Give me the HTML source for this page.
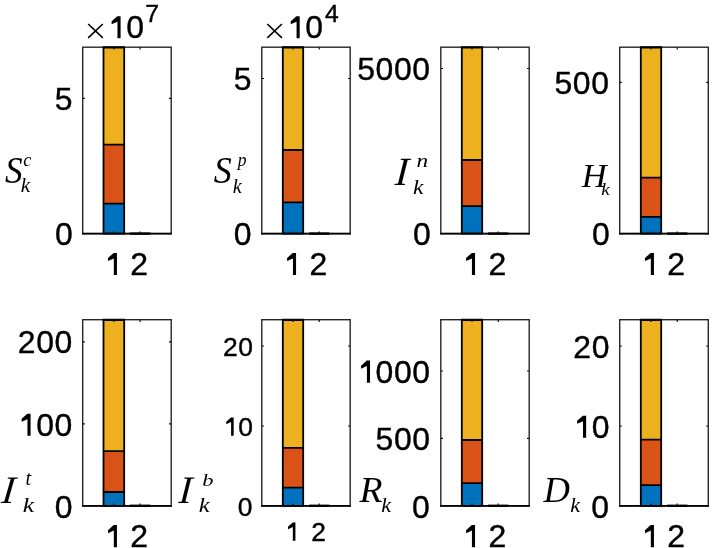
<!DOCTYPE html>
<html><head><meta charset="utf-8"><style>
html,body{margin:0;padding:0;background:#fff;}
svg{display:block;will-change:transform;}
text{fill:#000;stroke:#000;font-kerning:none;}
</style></head><body>
<svg width="712" height="548" viewBox="0 0 712 548">
<rect width="712" height="548" fill="#fff"/>
<rect x="103.50" y="47.20" width="20.70" height="97.50" fill="#EDB120"/>
<rect x="103.50" y="144.70" width="20.70" height="59.00" fill="#D95319"/>
<rect x="103.50" y="203.70" width="20.70" height="29.90" fill="#0072BD"/>
<path d="M103.50 47.20V233.60M124.20 47.20V233.60M102.60 144.70H125.10M102.60 203.70H125.10M102.60 233.60H125.10M102.60 47.20H125.10" stroke="#000" stroke-width="1.80" fill="none"/>
<path d="M129.75 233.60H150.45" stroke="#000" stroke-width="2.4" fill="none"/>
<rect x="82.70" y="47.20" width="88.50" height="186.40" fill="none" stroke="#262626" stroke-width="1.4"/>
<path d="M82.00 233.60H171.90" stroke="#000" stroke-width="1.8" fill="none"/>
<path d="M102.60 47.60H125.10" stroke="#000" stroke-width="1.8" fill="none"/>
<path d="M113.85 47.20V49.40M113.85 233.60V231.40M140.10 47.20V49.40M140.10 233.60V231.40M82.70 98.30H84.90M171.20 98.30H169.00M82.70 233.60H84.90M171.20 233.60H169.00" stroke="#111" stroke-width="1.2" fill="none"/>
<rect x="282.80" y="47.20" width="20.40" height="102.80" fill="#EDB120"/>
<rect x="282.80" y="150.00" width="20.40" height="52.30" fill="#D95319"/>
<rect x="282.80" y="202.30" width="20.40" height="31.30" fill="#0072BD"/>
<path d="M282.80 47.20V233.60M303.20 47.20V233.60M281.90 150.00H304.10M281.90 202.30H304.10M281.90 233.60H304.10M281.90 47.20H304.10" stroke="#000" stroke-width="1.80" fill="none"/>
<path d="M309.05 233.60H329.45" stroke="#000" stroke-width="2.4" fill="none"/>
<rect x="261.80" y="47.20" width="88.40" height="186.40" fill="none" stroke="#262626" stroke-width="1.4"/>
<path d="M261.10 233.60H350.90" stroke="#000" stroke-width="1.8" fill="none"/>
<path d="M281.90 47.60H304.10" stroke="#000" stroke-width="1.8" fill="none"/>
<path d="M293.00 47.20V49.40M293.00 233.60V231.40M319.25 47.20V49.40M319.25 233.60V231.40M261.80 78.50H264.00M350.20 78.50H348.00M261.80 233.60H264.00M350.20 233.60H348.00" stroke="#111" stroke-width="1.2" fill="none"/>
<rect x="461.80" y="47.20" width="20.40" height="112.80" fill="#EDB120"/>
<rect x="461.80" y="160.00" width="20.40" height="46.20" fill="#D95319"/>
<rect x="461.80" y="206.20" width="20.40" height="27.40" fill="#0072BD"/>
<path d="M461.80 47.20V233.60M482.20 47.20V233.60M460.90 160.00H483.10M460.90 206.20H483.10M460.90 233.60H483.10M460.90 47.20H483.10" stroke="#000" stroke-width="1.80" fill="none"/>
<path d="M488.05 233.60H508.45" stroke="#000" stroke-width="2.4" fill="none"/>
<rect x="440.80" y="47.20" width="88.40" height="186.40" fill="none" stroke="#262626" stroke-width="1.4"/>
<path d="M440.10 233.60H529.90" stroke="#000" stroke-width="1.8" fill="none"/>
<path d="M460.90 47.60H483.10" stroke="#000" stroke-width="1.8" fill="none"/>
<path d="M472.00 47.20V49.40M472.00 233.60V231.40M498.25 47.20V49.40M498.25 233.60V231.40M440.80 68.50H443.00M529.20 68.50H527.00M440.80 233.60H443.00M529.20 233.60H527.00" stroke="#111" stroke-width="1.2" fill="none"/>
<rect x="640.80" y="47.20" width="20.40" height="130.40" fill="#EDB120"/>
<rect x="640.80" y="177.60" width="20.40" height="39.20" fill="#D95319"/>
<rect x="640.80" y="216.80" width="20.40" height="16.80" fill="#0072BD"/>
<path d="M640.80 47.20V233.60M661.20 47.20V233.60M639.90 177.60H662.10M639.90 216.80H662.10M639.90 233.60H662.10M639.90 47.20H662.10" stroke="#000" stroke-width="1.80" fill="none"/>
<path d="M667.05 233.60H687.45" stroke="#000" stroke-width="2.4" fill="none"/>
<rect x="619.70" y="47.20" width="88.60" height="186.40" fill="none" stroke="#262626" stroke-width="1.4"/>
<path d="M619.00 233.60H709.00" stroke="#000" stroke-width="1.8" fill="none"/>
<path d="M639.90 47.60H662.10" stroke="#000" stroke-width="1.8" fill="none"/>
<path d="M651.00 47.20V49.40M651.00 233.60V231.40M677.25 47.20V49.40M677.25 233.60V231.40M619.70 82.30H621.90M708.30 82.30H706.10M619.70 233.60H621.90M708.30 233.60H706.10" stroke="#111" stroke-width="1.2" fill="none"/>
<rect x="103.50" y="319.70" width="20.70" height="131.50" fill="#EDB120"/>
<rect x="103.50" y="451.20" width="20.70" height="40.80" fill="#D95319"/>
<rect x="103.50" y="492.00" width="20.70" height="13.80" fill="#0072BD"/>
<path d="M103.50 319.70V505.80M124.20 319.70V505.80M102.60 451.20H125.10M102.60 492.00H125.10M102.60 505.80H125.10M102.60 319.70H125.10" stroke="#000" stroke-width="1.80" fill="none"/>
<path d="M129.75 505.80H150.45" stroke="#000" stroke-width="2.4" fill="none"/>
<rect x="82.70" y="319.70" width="88.50" height="186.10" fill="none" stroke="#262626" stroke-width="1.4"/>
<path d="M82.00 505.80H171.90" stroke="#000" stroke-width="1.8" fill="none"/>
<path d="M102.60 320.10H125.10" stroke="#000" stroke-width="1.8" fill="none"/>
<path d="M113.85 319.70V321.90M113.85 505.80V503.60M140.10 319.70V321.90M140.10 505.80V503.60M82.70 341.80H84.90M171.20 341.80H169.00M82.70 423.80H84.90M171.20 423.80H169.00M82.70 505.80H84.90M171.20 505.80H169.00" stroke="#111" stroke-width="1.2" fill="none"/>
<rect x="282.80" y="319.70" width="20.40" height="128.10" fill="#EDB120"/>
<rect x="282.80" y="447.80" width="20.40" height="39.90" fill="#D95319"/>
<rect x="282.80" y="487.70" width="20.40" height="18.10" fill="#0072BD"/>
<path d="M282.80 319.70V505.80M303.20 319.70V505.80M281.90 447.80H304.10M281.90 487.70H304.10M281.90 505.80H304.10M281.90 319.70H304.10" stroke="#000" stroke-width="1.80" fill="none"/>
<path d="M309.05 505.80H329.45" stroke="#000" stroke-width="2.4" fill="none"/>
<rect x="261.80" y="319.70" width="88.40" height="186.10" fill="none" stroke="#262626" stroke-width="1.4"/>
<path d="M261.10 505.80H350.90" stroke="#000" stroke-width="1.8" fill="none"/>
<path d="M281.90 320.10H304.10" stroke="#000" stroke-width="1.8" fill="none"/>
<path d="M293.00 319.70V321.90M293.00 505.80V503.60M319.25 319.70V321.90M319.25 505.80V503.60M261.80 346.00H264.00M350.20 346.00H348.00M261.80 426.00H264.00M350.20 426.00H348.00M261.80 505.80H264.00M350.20 505.80H348.00" stroke="#111" stroke-width="1.2" fill="none"/>
<rect x="461.80" y="319.70" width="20.40" height="120.30" fill="#EDB120"/>
<rect x="461.80" y="440.00" width="20.40" height="43.20" fill="#D95319"/>
<rect x="461.80" y="483.20" width="20.40" height="22.60" fill="#0072BD"/>
<path d="M461.80 319.70V505.80M482.20 319.70V505.80M460.90 440.00H483.10M460.90 483.20H483.10M460.90 505.80H483.10M460.90 319.70H483.10" stroke="#000" stroke-width="1.80" fill="none"/>
<path d="M488.05 505.80H508.45" stroke="#000" stroke-width="2.4" fill="none"/>
<rect x="440.80" y="319.70" width="88.40" height="186.10" fill="none" stroke="#262626" stroke-width="1.4"/>
<path d="M440.10 505.80H529.90" stroke="#000" stroke-width="1.8" fill="none"/>
<path d="M460.90 320.10H483.10" stroke="#000" stroke-width="1.8" fill="none"/>
<path d="M472.00 319.70V321.90M472.00 505.80V503.60M498.25 319.70V321.90M498.25 505.80V503.60M440.80 371.00H443.00M529.20 371.00H527.00M440.80 438.30H443.00M529.20 438.30H527.00M440.80 505.80H443.00M529.20 505.80H527.00" stroke="#111" stroke-width="1.2" fill="none"/>
<rect x="640.80" y="319.70" width="20.40" height="120.00" fill="#EDB120"/>
<rect x="640.80" y="439.70" width="20.40" height="45.50" fill="#D95319"/>
<rect x="640.80" y="485.20" width="20.40" height="20.60" fill="#0072BD"/>
<path d="M640.80 319.70V505.80M661.20 319.70V505.80M639.90 439.70H662.10M639.90 485.20H662.10M639.90 505.80H662.10M639.90 319.70H662.10" stroke="#000" stroke-width="1.80" fill="none"/>
<path d="M667.05 505.80H687.45" stroke="#000" stroke-width="2.4" fill="none"/>
<rect x="619.70" y="319.70" width="88.60" height="186.10" fill="none" stroke="#262626" stroke-width="1.4"/>
<path d="M619.00 505.80H709.00" stroke="#000" stroke-width="1.8" fill="none"/>
<path d="M639.90 320.10H662.10" stroke="#000" stroke-width="1.8" fill="none"/>
<path d="M651.00 319.70V321.90M651.00 505.80V503.60M677.25 319.70V321.90M677.25 505.80V503.60M619.70 346.00H621.90M708.30 346.00H706.10M619.70 426.00H621.90M708.30 426.00H706.10M619.70 505.80H621.90M708.30 505.80H706.10" stroke="#111" stroke-width="1.2" fill="none"/>
<path d="M88.20 24.00L102.80 37.90M102.80 24.00L88.20 37.90" stroke="#000" stroke-width="1.6" fill="none"/>
<path d="M267.30 24.00L281.90 37.90M281.90 24.00L267.30 37.90" stroke="#000" stroke-width="1.6" fill="none"/>
<text x="54.78" y="110.08" style="font-family:'Liberation Sans',sans-serif;font-size:31.93px;stroke-width:0.40px">5</text>
<text x="54.89" y="244.99" style="font-family:'Liberation Sans',sans-serif;font-size:31.93px;stroke-width:0.40px">0</text>
<text x="233.78" y="90.03" style="font-family:'Liberation Sans',sans-serif;font-size:31.93px;stroke-width:0.40px">5</text>
<text x="233.79" y="245.19" style="font-family:'Liberation Sans',sans-serif;font-size:31.93px;stroke-width:0.40px">0</text>
<text x="357.22" y="79.79" style="font-family:'Liberation Sans',sans-serif;font-size:31.93px;stroke-width:0.40px">5</text>
<text x="375.58" y="79.79" style="font-family:'Liberation Sans',sans-serif;font-size:31.93px;stroke-width:0.40px">0</text>
<text x="393.93" y="79.79" style="font-family:'Liberation Sans',sans-serif;font-size:31.93px;stroke-width:0.40px">0</text>
<text x="412.29" y="79.79" style="font-family:'Liberation Sans',sans-serif;font-size:31.93px;stroke-width:0.40px">0</text>
<text x="413.09" y="245.19" style="font-family:'Liberation Sans',sans-serif;font-size:31.93px;stroke-width:0.40px">0</text>
<text x="554.48" y="94.09" style="font-family:'Liberation Sans',sans-serif;font-size:31.93px;stroke-width:0.40px">5</text>
<text x="572.83" y="94.09" style="font-family:'Liberation Sans',sans-serif;font-size:31.93px;stroke-width:0.40px">0</text>
<text x="591.19" y="94.09" style="font-family:'Liberation Sans',sans-serif;font-size:31.93px;stroke-width:0.40px">0</text>
<text x="591.99" y="245.19" style="font-family:'Liberation Sans',sans-serif;font-size:31.93px;stroke-width:0.40px">0</text>
<text x="17.78" y="353.49" style="font-family:'Liberation Sans',sans-serif;font-size:31.93px;stroke-width:0.40px">2</text>
<text x="36.13" y="353.49" style="font-family:'Liberation Sans',sans-serif;font-size:31.93px;stroke-width:0.40px">0</text>
<text x="54.49" y="353.49" style="font-family:'Liberation Sans',sans-serif;font-size:31.93px;stroke-width:0.40px">0</text>
<path d="M30.58 435.78 27.46 435.78 27.46 419.13 21.62 421.77 21.62 418.81 27.31 413.63 30.58 413.63Z" fill="#000"/>
<text x="36.13" y="435.69" style="font-family:'Liberation Sans',sans-serif;font-size:31.93px;stroke-width:0.40px">0</text>
<text x="54.49" y="435.69" style="font-family:'Liberation Sans',sans-serif;font-size:31.93px;stroke-width:0.40px">0</text>
<text x="54.79" y="517.69" style="font-family:'Liberation Sans',sans-serif;font-size:31.93px;stroke-width:0.40px">0</text>
<text x="222.94" y="355.50" style="font-family:'Liberation Sans',sans-serif;font-size:26.43px;stroke-width:0.40px">2</text>
<text x="238.23" y="355.50" style="font-family:'Liberation Sans',sans-serif;font-size:26.43px;stroke-width:0.40px">0</text>
<path d="M233.67 435.77 231.09 435.77 231.09 421.99 226.25 424.17 226.25 421.72 230.96 417.44 233.67 417.44Z" fill="#000"/>
<text x="238.23" y="435.70" style="font-family:'Liberation Sans',sans-serif;font-size:26.43px;stroke-width:0.40px">0</text>
<text x="237.73" y="516.10" style="font-family:'Liberation Sans',sans-serif;font-size:26.43px;stroke-width:0.40px">0</text>
<path d="M370.03 382.68 366.91 382.68 366.91 366.03 361.06 368.67 361.06 365.71 366.75 360.53 370.03 360.53Z" fill="#000"/>
<text x="375.58" y="382.59" style="font-family:'Liberation Sans',sans-serif;font-size:31.93px;stroke-width:0.40px">0</text>
<text x="393.93" y="382.59" style="font-family:'Liberation Sans',sans-serif;font-size:31.93px;stroke-width:0.40px">0</text>
<text x="412.29" y="382.59" style="font-family:'Liberation Sans',sans-serif;font-size:31.93px;stroke-width:0.40px">0</text>
<text x="375.58" y="450.39" style="font-family:'Liberation Sans',sans-serif;font-size:31.93px;stroke-width:0.40px">5</text>
<text x="393.93" y="450.39" style="font-family:'Liberation Sans',sans-serif;font-size:31.93px;stroke-width:0.40px">0</text>
<text x="412.29" y="450.39" style="font-family:'Liberation Sans',sans-serif;font-size:31.93px;stroke-width:0.40px">0</text>
<text x="411.99" y="517.69" style="font-family:'Liberation Sans',sans-serif;font-size:31.93px;stroke-width:0.40px">0</text>
<text x="573.33" y="357.69" style="font-family:'Liberation Sans',sans-serif;font-size:31.93px;stroke-width:0.40px">2</text>
<text x="591.69" y="357.69" style="font-family:'Liberation Sans',sans-serif;font-size:31.93px;stroke-width:0.40px">0</text>
<path d="M586.14 437.78 583.02 437.78 583.02 421.13 577.17 423.77 577.17 420.81 582.86 415.63 586.14 415.63Z" fill="#000"/>
<text x="591.69" y="437.69" style="font-family:'Liberation Sans',sans-serif;font-size:31.93px;stroke-width:0.40px">0</text>
<text x="591.29" y="518.09" style="font-family:'Liberation Sans',sans-serif;font-size:31.93px;stroke-width:0.40px">0</text>
<path d="M116.95 275.06 113.83 275.06 113.83 258.41 107.98 261.04 107.98 258.08 113.67 252.91 116.95 252.91Z" fill="#000"/>
<text x="130.32" y="275.29" style="font-family:'Liberation Sans',sans-serif;font-size:31.93px;stroke-width:0.40px">2</text>
<path d="M296.05 275.06 292.93 275.06 292.93 258.41 287.08 261.04 287.08 258.08 292.77 252.91 296.05 252.91Z" fill="#000"/>
<text x="309.42" y="275.29" style="font-family:'Liberation Sans',sans-serif;font-size:31.93px;stroke-width:0.40px">2</text>
<path d="M475.05 275.06 471.93 275.06 471.93 258.41 466.08 261.04 466.08 258.08 471.77 252.91 475.05 252.91Z" fill="#000"/>
<text x="488.42" y="275.29" style="font-family:'Liberation Sans',sans-serif;font-size:31.93px;stroke-width:0.40px">2</text>
<path d="M653.95 275.06 650.83 275.06 650.83 258.41 644.98 261.04 644.98 258.08 650.67 252.91 653.95 252.91Z" fill="#000"/>
<text x="667.32" y="275.29" style="font-family:'Liberation Sans',sans-serif;font-size:31.93px;stroke-width:0.40px">2</text>
<path d="M116.95 547.26 113.83 547.26 113.83 530.61 107.98 533.24 107.98 530.28 113.67 525.11 116.95 525.11Z" fill="#000"/>
<text x="130.32" y="547.49" style="font-family:'Liberation Sans',sans-serif;font-size:31.93px;stroke-width:0.40px">2</text>
<path d="M475.05 547.26 471.93 547.26 471.93 530.61 466.08 533.24 466.08 530.28 471.77 525.11 475.05 525.11Z" fill="#000"/>
<text x="488.42" y="547.49" style="font-family:'Liberation Sans',sans-serif;font-size:31.93px;stroke-width:0.40px">2</text>
<path d="M653.95 547.26 650.83 547.26 650.83 530.61 644.98 533.24 644.98 530.28 650.67 525.11 653.95 525.11Z" fill="#000"/>
<text x="667.32" y="547.49" style="font-family:'Liberation Sans',sans-serif;font-size:31.93px;stroke-width:0.40px">2</text>
<path d="M295.42 540.76 292.84 540.76 292.84 526.98 288.00 529.16 288.00 526.71 292.71 522.42 295.42 522.42Z" fill="#000"/>
<text x="311.25" y="540.95" style="font-family:'Liberation Sans',sans-serif;font-size:26.43px;stroke-width:0.40px">2</text>
<path d="M120.59 38.29 117.47 38.29 117.47 21.64 111.62 24.27 111.62 21.31 117.31 16.13 120.59 16.13Z" fill="#000"/>
<text x="126.14" y="38.19" style="font-family:'Liberation Sans',sans-serif;font-size:31.93px;stroke-width:0.40px">0</text>
<text x="145.23" y="21.70" style="font-family:'Liberation Sans',sans-serif;font-size:24.71px;stroke-width:0.40px">7</text>
<path d="M299.69 38.29 296.57 38.29 296.57 21.64 290.72 24.27 290.72 21.31 296.41 16.13 299.69 16.13Z" fill="#000"/>
<text x="305.24" y="38.19" style="font-family:'Liberation Sans',sans-serif;font-size:31.93px;stroke-width:0.40px">0</text>
<text x="325.03" y="21.70" style="font-family:'Liberation Sans',sans-serif;font-size:24.71px;stroke-width:0.40px">4</text>
<text transform="translate(4.89 182.83) scale(0.9191 1)" style="font-family:'Liberation Serif',serif;font-style:italic;font-size:38.25px;stroke-width:0.00px">S</text>
<text transform="translate(23.34 165.52) scale(1.0030 1)" style="font-family:'Liberation Serif',serif;font-style:italic;font-size:18.09px;stroke-width:0.00px">c</text>
<text transform="translate(20.69 192.30) scale(0.9731 1)" style="font-family:'Liberation Serif',serif;font-style:italic;font-size:21.76px;stroke-width:0.00px">k</text>
<text transform="translate(213.78 182.83) scale(0.9413 1)" style="font-family:'Liberation Serif',serif;font-style:italic;font-size:38.25px;stroke-width:0.00px">S</text>
<text transform="translate(237.73 165.77) scale(0.8854 1)" style="font-family:'Liberation Serif',serif;font-style:italic;font-size:19.88px;stroke-width:0.00px">p</text>
<text transform="translate(232.82 192.50) scale(0.9492 1)" style="font-family:'Liberation Serif',serif;font-style:italic;font-size:21.33px;stroke-width:0.00px">k</text>
<text transform="matrix(1 0 -0.0722 1 394.46 184.90)" style="font-family:'Liberation Serif',serif;font-style:italic;font-size:40.17px;stroke-width:0.00px">I</text>
<text transform="translate(416.47 166.80) scale(1.2409 1)" style="font-family:'Liberation Serif',serif;font-style:italic;font-size:18.68px;stroke-width:0.00px">n</text>
<text transform="translate(413.02 194.20) scale(1.1485 1)" style="font-family:'Liberation Serif',serif;font-style:italic;font-size:20.47px;stroke-width:0.00px">k</text>
<text transform="translate(581.87 186.80) scale(1.0349 1)" style="font-family:'Liberation Serif',serif;font-style:italic;font-size:33.29px;stroke-width:0.00px">H</text>
<text transform="translate(601.15 195.30) scale(1.0943 1)" style="font-family:'Liberation Serif',serif;font-style:italic;font-size:17.44px;stroke-width:0.00px">k</text>
<text transform="matrix(1 0 -0.1121 1 0.85 503.00)" style="font-family:'Liberation Serif',serif;font-style:italic;font-size:38.94px;stroke-width:0.00px">I</text>
<text transform="translate(25.42 485.30) scale(0.9918 1)" style="font-family:'Liberation Serif',serif;font-style:italic;font-size:20.25px;stroke-width:0.00px">t</text>
<text transform="translate(22.67 511.80) scale(1.2055 1)" style="font-family:'Liberation Serif',serif;font-style:italic;font-size:21.04px;stroke-width:0.00px">k</text>
<text transform="matrix(1 0 -0.0729 1 178.35 503.00)" style="font-family:'Liberation Serif',serif;font-style:italic;font-size:38.94px;stroke-width:0.00px">I</text>
<text transform="translate(202.17 486.13) scale(1.2723 1)" style="font-family:'Liberation Serif',serif;font-style:italic;font-size:17.62px;stroke-width:0.00px">b</text>
<text transform="translate(198.80 511.80) scale(1.1613 1)" style="font-family:'Liberation Serif',serif;font-style:italic;font-size:21.04px;stroke-width:0.00px">k</text>
<text transform="translate(359.60 502.30) scale(1.0241 1)" style="font-family:'Liberation Serif',serif;font-style:italic;font-size:36.81px;stroke-width:0.00px">R</text>
<text transform="translate(381.36 511.80) scale(1.0507 1)" style="font-family:'Liberation Serif',serif;font-style:italic;font-size:21.04px;stroke-width:0.00px">k</text>
<text transform="translate(543.41 502.23) scale(0.9978 1)" style="font-family:'Liberation Serif',serif;font-style:italic;font-size:36.70px;stroke-width:0.00px">D</text>
<text transform="translate(570.16 511.80) scale(1.0507 1)" style="font-family:'Liberation Serif',serif;font-style:italic;font-size:21.04px;stroke-width:0.00px">k</text>
</svg>
</body></html>
